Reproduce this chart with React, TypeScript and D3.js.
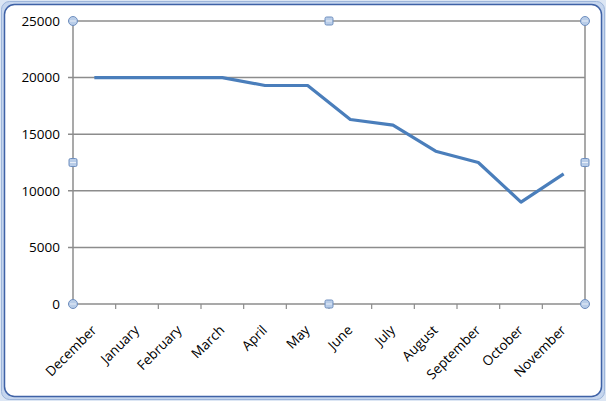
import React from "react";
import * as d3 from "d3";

const months = ["December","January","February","March","April","May","June","July","August","September","October","November"];
const values = [20000,20000,20000,20000,19300,19300,16300,15800,13500,12500,9000,11500];
const yTicks = [0,5000,10000,15000,20000,25000];

const W = 606, H = 401;
const m = { left: 73, right: 585, top: 21, bottom: 304 };

export default function App() {
  const x = d3.scaleBand<string>().domain(months).range([m.left, m.right]).paddingInner(0).paddingOuter(0);
  const y = d3.scaleLinear().domain([0, 25000]).range([m.bottom, m.top]);
  const line = d3.line<number>().x((_, i) => (x(months[i]) as number) + x.bandwidth() / 2).y(d => y(d));
  const tickXs = months.map(mo => x(mo) as number).concat([m.right]);
  const font = "'Open Sans', 'DejaVu Sans', sans-serif";
  const midX = (m.left + m.right) / 2, midY = (m.top + m.bottom) / 2;
  const circ = (cx: number, cy: number, k: string) => (
    <g key={k}>
      <circle cx={cx} cy={cy} r={4.5} fill="#b9cde8" stroke="#6f8fbf" strokeWidth={1} />
      <line x1={cx - 3} x2={cx + 3} y1={cy} y2={cy} stroke="#e8eef8" strokeWidth={1} />
    </g>
  );
  const sq = (cx: number, cy: number, k: string) => (
    <g key={k}>
      <rect x={cx - 4} y={cy - 4} width={8} height={8} rx={1.5} fill="#b9cde8" stroke="#6f8fbf" strokeWidth={1} />
      <line x1={cx - 3} x2={cx + 3} y1={cy} y2={cy} stroke="#e8eef8" strokeWidth={1} />
    </g>
  );
  return (
    <svg width={W} height={H} style={{ position: "absolute", left: 0, top: 0 }}>
      <rect x={0} y={0} width={W} height={H} fill="#dce6f4" />
      <rect x={1.5} y={1.5} width={W - 3} height={H - 3} rx={8} fill="#c6d6ee" stroke="#9db5da" strokeWidth={1} />
      <rect x={4.5} y={4.5} width={W - 9} height={H - 9} rx={10} fill="#ffffff" stroke="#3f62a6" strokeWidth={1.5} />
      {yTicks.map(t => (
        <line key={"g" + t} x1={m.left - 5} x2={m.right} y1={y(t)} y2={y(t)} stroke="#8c8c8c" strokeWidth={1.5} />
      ))}
      <line x1={m.left} x2={m.left} y1={m.top} y2={m.bottom} stroke="#8c8c8c" strokeWidth={1.5} />
      <line x1={m.right} x2={m.right} y1={m.top} y2={m.bottom} stroke="#8c8c8c" strokeWidth={1.5} />
      {tickXs.map((tx, i) => (
        <line key={"t" + i} x1={tx} x2={tx} y1={m.bottom} y2={m.bottom + 5} stroke="#8c8c8c" strokeWidth={1.2} />
      ))}
      {yTicks.map(t => (
        <text key={"yl" + t} x={60} y={y(t)} dy="0.36em" textAnchor="end" fontFamily={font} fontSize={13.5} fill="#000">{t}</text>
      ))}
      {months.map(mo => {
        const cx = (x(mo) as number) + x.bandwidth() / 2 + 3;
        const cy = m.bottom + 27;
        return (
          <text key={mo} x={cx} y={cy} textAnchor="end" fontFamily={font} fontSize={13.5} fill="#000"
            transform={`rotate(-45, ${cx}, ${cy})`}>{mo}</text>
        );
      })}
      <path d={line(values) || ""} fill="none" stroke="#4a7ebb" strokeWidth={3.2} strokeLinejoin="round" />
      {[circ(m.left, m.top, "c1"), circ(m.right, m.top, "c2"), circ(m.left, m.bottom, "c3"), circ(m.right, m.bottom, "c4"),
        sq(midX, m.top, "s1"), sq(midX, m.bottom, "s2"), sq(m.left, midY, "s3"), sq(m.right, midY, "s4")]}
    </svg>
  );
}
